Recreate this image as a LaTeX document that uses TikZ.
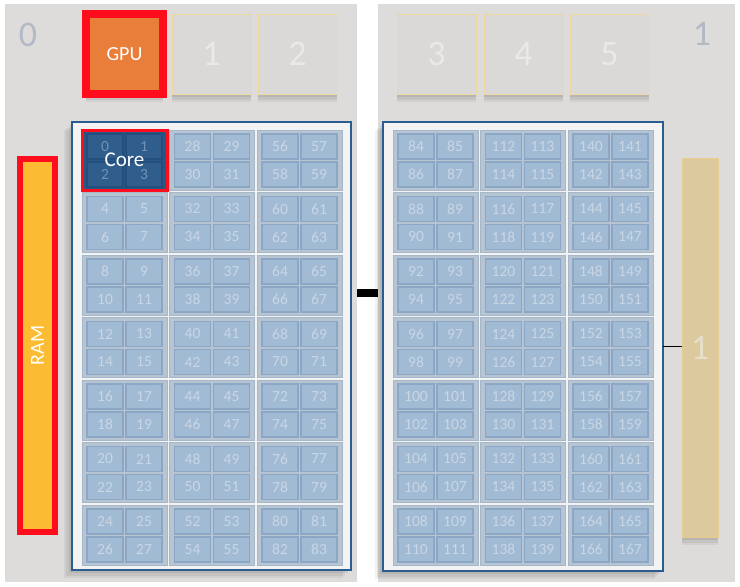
\documentclass[tikz,border=0pt]{standalone}
\usepackage{fontspec}
\setmainfont{Carlito}
\definecolor{panelbg}{HTML}{DEDCDA}
\definecolor{labelgray}{HTML}{B3BAC6}
\definecolor{gpured}{HTML}{FF0D1D}
\definecolor{gpuorange}{HTML}{E97D3A}
\definecolor{slotfill}{HTML}{DAD9D7}
\definecolor{slotborder}{HTML}{EFD7A0}
\definecolor{slottext}{HTML}{E9E9E9}
\definecolor{chipborder}{HTML}{2B5C8F}
\definecolor{chipfill}{HTML}{F3F3F3}
\definecolor{groupfill}{HTML}{B7C5D3}
\definecolor{groupborder}{HTML}{A6B7C9}
\definecolor{cellfill}{HTML}{A2BBD5}
\definecolor{cellborder}{HTML}{8BA7C5}
\definecolor{celltext}{HTML}{C9D6E4}
\definecolor{coregroupfill}{HTML}{2A5683}
\definecolor{corecellfill}{HTML}{2F5E8D}
\definecolor{corecellborder}{HTML}{234F7E}
\definecolor{corecelltext}{HTML}{7391B4}
\definecolor{ramyellow}{HTML}{FBBC33}
\definecolor{ramonefill}{HTML}{DCC99E}
\definecolor{ramoneborder}{HTML}{E6CD8F}
\definecolor{ramonetext}{HTML}{E8DFC8}
\begin{document}
\begin{tikzpicture}[x=1pt,y=-1pt,
  every node/.style={inner sep=0pt, outer sep=0pt},
  panel/.style={fill=panelbg, anchor=north west},
  biglabel/.style={text=labelgray, font=\fontsize{36}{36}\selectfont},
  softshadow/.style={preaction={fill=black,opacity=0.05,transform canvas={xshift=#1,yshift=-8pt}},
                     preaction={fill=black,opacity=0.06,transform canvas={xshift=#1*0.7,yshift=-5.5pt}},
                     preaction={fill=black,opacity=0.07,transform canvas={xshift=#1*0.4,yshift=-3pt}}},
  gpubox/.style={fill=gpuorange, draw=gpured, line width=8pt, anchor=north west,
    minimum width=77pt, minimum height=80pt, text=white, font=\fontsize{20}{20}\selectfont},
  slot/.style={fill=slotfill, draw=slotborder, line width=1pt, anchor=north west,
    minimum width=79pt, minimum height=80pt, text=slottext, font=\fontsize{36}{36}\selectfont},
  chip/.style={fill=chipfill, draw=chipborder, line width=2pt, anchor=north west},
  group/.style={fill=groupfill, draw=groupborder, line width=1pt, anchor=north west,
    minimum width=85pt, minimum height=60pt},
  coregroup/.style={fill=coregroupfill, draw=gpured, line width=3pt, anchor=north west,
    minimum width=85pt, minimum height=60pt},
  cell/.style={fill=cellfill, draw=cellborder, line width=1.5pt, anchor=north west,
    minimum width=36pt, minimum height=25pt, text=celltext, font=\fontsize{15.5}{15.5}\selectfont},
  corecell/.style={fill=corecellfill, draw=corecellborder, line width=1.5pt, anchor=north west,
    minimum width=36pt, minimum height=25pt, text=corecelltext, font=\fontsize{15.5}{15.5}\selectfont},
  corelabel/.style={text=white, font=\fontsize{21}{21}\selectfont},
  rambox/.style={fill=ramyellow, draw=gpured, line width=6pt, anchor=north west},
  ramone/.style={fill=ramonefill, draw=ramoneborder, line width=1pt, anchor=north west},
  ramtext/.style={text=white, font=\fontsize{20}{20}\selectfont, rotate=90},
  link/.style={draw=black, line width=1.2pt},
  bridge/.style={draw=black, line width=8pt}
]
\useasboundingbox (0,0) rectangle (740,587);
\fill[white] (0,0) rectangle (740,587);
% panels
\node[panel, minimum width=352pt, minimum height=578pt] (lp) at (5,4) {};
\node[panel, minimum width=357pt, minimum height=578pt] (rp) at (378,4) {};
% corner labels
\node[biglabel] (lab0) at (28,35) {0};
\node[biglabel] (lab1) at (702,34) {1};
% GPU and slots
\node[gpubox, softshadow=0pt] (gpu) at (86,14) {GPU};
\node[slot, softshadow=0pt] (s1) at (172,14) {1};
\node[slot, softshadow=0pt] (s2) at (258,14) {2};
\node[slot, softshadow=0pt] (s3) at (397,14) {3};
\node[slot, softshadow=0pt] (s4) at (484,14) {4};
\node[slot, softshadow=0pt] (s5) at (570,14) {5};
% chips
\node[chip, softshadow=-8pt, minimum width=279pt, minimum height=448pt] (chip0) at (72,122) {};
\node[chip, softshadow=-8pt, minimum width=280pt, minimum height=449pt] (chip1) at (383,122) {};
% groups and cells
\foreach \c/\cx in {0/72,1/383} {
  \foreach \j in {0,1,2} {
    \foreach \i in {0,...,6} {
      \pgfmathsetmacro\gx{\cx+10+87.5*\j}
      \pgfmathsetmacro\gy{130+62.5*\i}
      \pgfmathtruncatemacro\n{84*\c+28*\j+4*\i}
      \ifnum\n=0 \tikzset{gcur/.style=coregroup}\else\tikzset{gcur/.style=group}\fi
      \node[gcur] (g\n) at (\gx,\gy) {};
      \foreach \m in {0,1} {
        \foreach \k in {0,1} {
          \pgfmathtruncatemacro\q{\n+2*\m+\k}
          \pgfmathsetmacro\qx{\gx+5+39*\k}
          \pgfmathsetmacro\qy{\gy+4+28*\m}
          \ifnum\q<4 \tikzset{ccur/.style=corecell}\else\tikzset{ccur/.style=cell}\fi
          \node[ccur] (cell\q) at (\qx,\qy) {\q};
        }
      }
    }
  }
}
\node[corelabel] (core) at (g0.center) {Core};
% RAM
\node[rambox, minimum width=35pt, minimum height=373pt] (ram0) at (20,159) {};
\node[ramtext] (ramlab) at (ram0.center) {RAM};
\node[ramone, softshadow=0pt, minimum width=36pt, minimum height=379pt] (ram1) at (682,158) {};
\node[biglabel, text=ramonetext] (ram1lab) at (ram1.center) {1};
% connectors
\draw[link] (chip1.east) -- (chip1.east -| ram1.west);
\draw[bridge] (lp.east) -- (rp.west);
\end{tikzpicture}
\end{document}
